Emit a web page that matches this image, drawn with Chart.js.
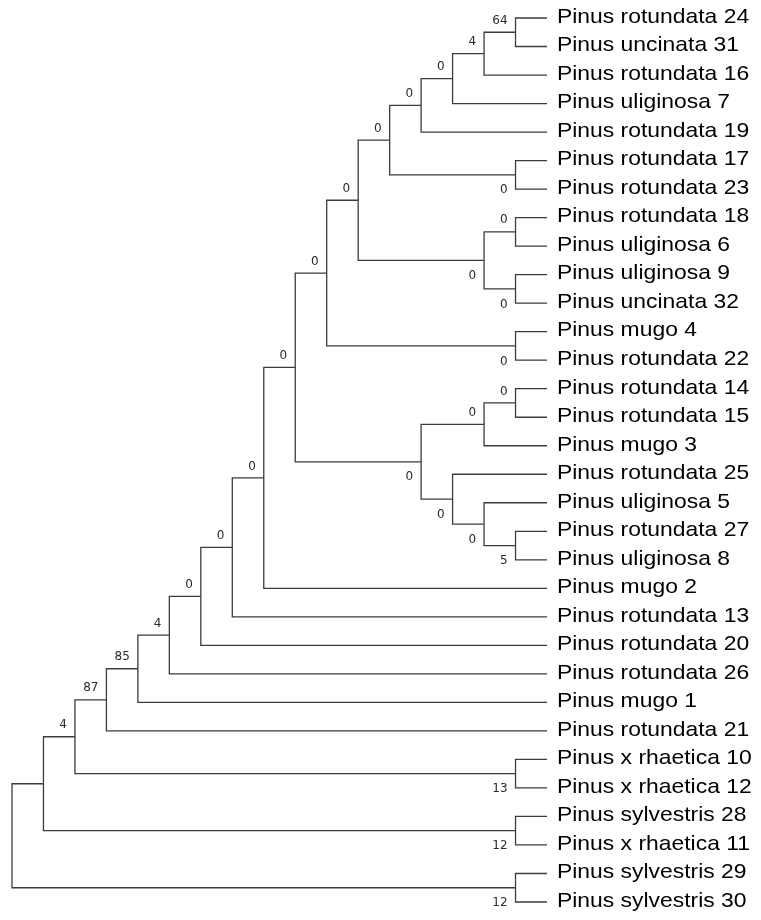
<!DOCTYPE html>
<html>
<head>
<meta charset="utf-8">
<script src="https://cdn.jsdelivr.net/npm/chart.js@4/dist/chart.umd.min.js"></script>
<style>
  html, body { margin: 0; padding: 0; background: #fff; }
  #wrap { width: 761px; height: 920px; position: relative; }
</style>
</head>
<body>
<div id="wrap"><canvas id="tree"></canvas></div>
<script>
// leaf names, top to bottom
const leaves = [
  "Pinus rotundata 24", "Pinus uncinata 31", "Pinus rotundata 16", "Pinus uliginosa 7",
  "Pinus rotundata 19", "Pinus rotundata 17", "Pinus rotundata 23", "Pinus rotundata 18",
  "Pinus uliginosa 6", "Pinus uliginosa 9", "Pinus uncinata 32", "Pinus mugo 4",
  "Pinus rotundata 22", "Pinus rotundata 14", "Pinus rotundata 15", "Pinus mugo 3",
  "Pinus rotundata 25", "Pinus uliginosa 5", "Pinus rotundata 27", "Pinus uliginosa 8",
  "Pinus mugo 2", "Pinus rotundata 13", "Pinus rotundata 20", "Pinus rotundata 26",
  "Pinus mugo 1", "Pinus rotundata 21", "Pinus x rhaetica 10", "Pinus x rhaetica 12",
  "Pinus sylvestris 28", "Pinus x rhaetica 11", "Pinus sylvestris 29", "Pinus sylvestris 30"
];

// clades: numbers = leaf index, "nK" = clade K (listed before it is used)
const clades = [
  [0, 1], ["n0", 2], ["n1", 3], ["n2", 4], [5, 6], ["n3", "n4"], [7, 8], [9, 10],
  ["n6", "n7"], ["n5", "n8"], [11, 12], ["n9", "n10"], [13, 14], ["n12", 15],
  [18, 19], [17, "n14"], [16, "n15"], ["n13", "n16"], ["n11", "n17"], ["n18", 20],
  ["n19", 21], ["n20", 22], ["n21", 23], ["n22", 24], ["n23", 25], [26, 27],
  ["n24", "n25"], [28, 29], ["n26", "n27"], [30, 31], ["n28", "n29"]
];

// bootstrap support per clade (null = not shown)
const support = [
  64, 4, 0, 0, 0, 0, 0, 0, 0, 0, 0, 0, 0, 0, 5, 0, 0, 0, 0, 0,
  0, 0, 4, 85, 87, 13, 4, 12, null, 12, null
];

// cladogram layout: x = height above the leaves, y = mean of children
const nodeX = [], nodeY = [];
function pos(ref) {
  if (typeof ref === "number") return { x: 0, y: ref };
  const k = +ref.slice(1);
  return { x: nodeX[k], y: nodeY[k] };
}
clades.forEach(function (c, k) {
  const a = pos(c[0]), b = pos(c[1]);
  nodeX[k] = Math.max(a.x, b.x) + 1;
  nodeY[k] = (a.y + b.y) / 2;
});
const maxH = nodeX[nodeX.length - 1];

// label side: above if clade is the upper child of its parent
const above = clades.map(function () { return true; });
clades.forEach(function (c) {
  if (typeof c[1] === "string") above[+c[1].slice(1)] = false;
});

const datasets = clades.map(function (c, k) {
  const a = pos(c[0]), b = pos(c[1]);
  return {
    data: [
      { x: a.x, y: a.y }, { x: nodeX[k], y: a.y },
      { x: nodeX[k], y: b.y }, { x: b.x, y: b.y }
    ],
    showLine: true,
    borderColor: "#3c3c3c",
    borderWidth: 1.3,
    pointRadius: 0,
    tension: 0,
    clip: false
  };
});

const treeLabels = {
  id: "treeLabels",
  afterDatasetsDraw: function (chart) {
    const ctx = chart.ctx, xs = chart.scales.x, ys = chart.scales.y;
    ctx.save();
    // leaf names
    ctx.fillStyle = "#000";
    ctx.font = '21px "Liberation Sans", Arial, sans-serif';
    ctx.textAlign = "left";
    ctx.textBaseline = "middle";
    leaves.forEach(function (name, i) {
      ctx.save();
      ctx.translate(xs.getPixelForValue(0) + 10, ys.getPixelForValue(i) - 1);
      ctx.scale(1.09, 1);
      ctx.fillText(name, 0, 0);
      ctx.restore();
    });
    // support values
    ctx.fillStyle = "#2a2a2a";
    ctx.font = '12px "DejaVu Sans", Verdana, sans-serif';
    ctx.textAlign = "right";
    support.forEach(function (s, k) {
      if (s === null) return;
      const px = xs.getPixelForValue(nodeX[k]) - 8;
      const py = ys.getPixelForValue(nodeY[k]) + (above[k] ? -11.5 : 15.5);
      ctx.fillText(String(s), px, py);
    });
    ctx.restore();
  }
};

new Chart(document.getElementById("tree"), {
  type: "scatter",
  data: { datasets: datasets },
  options: {
    responsive: true,
    maintainAspectRatio: false,
    animation: false,
    layout: { padding: { left: 12, right: 214, top: 18, bottom: 18 } },
    plugins: { legend: { display: false }, tooltip: { enabled: false } },
    scales: {
      x: { type: "linear", min: 0, max: maxH, reverse: true, display: false },
      y: { type: "linear", min: 0, max: leaves.length - 1, reverse: true, display: false }
    }
  },
  plugins: [treeLabels]
});
</script>
</body>
</html>
